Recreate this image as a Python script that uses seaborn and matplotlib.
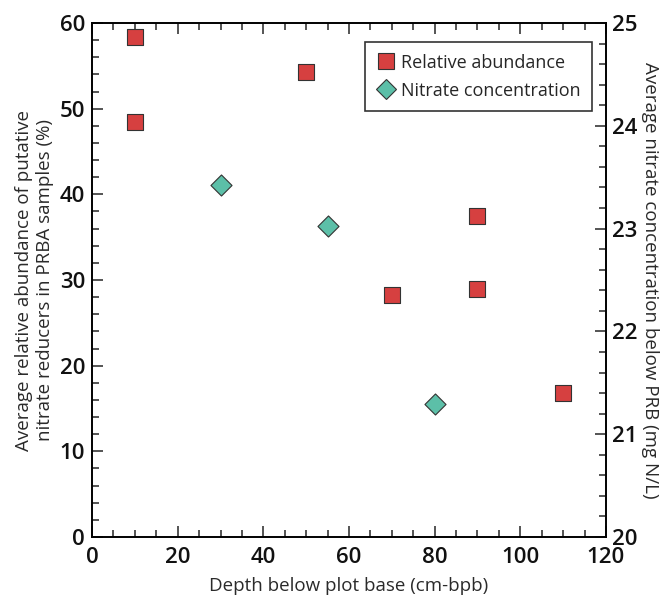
import matplotlib
matplotlib.use("Agg")
import matplotlib.pyplot as plt
from matplotlib.ticker import MultipleLocator
from matplotlib.lines import Line2D
import seaborn as sns
import pandas as pd

# values
abund_depth = [10, 10, 50, 70, 90, 90, 110]
abund_pct = [58.4, 48.4, 54.3, 28.2, 37.5, 28.9, 16.8]

nitrate_depth = [30, 55, 80]
nitrate_conc = [23.42, 23.03, 21.29]

red = "#d64040"
green = "#5cbfa8"

sns.set_theme(style="ticks")
plt.rcParams["font.family"] = ["Open Sans", "DejaVu Sans"]

abund = pd.DataFrame({"depth": abund_depth, "value": abund_pct})
nitrate = pd.DataFrame({"depth": nitrate_depth, "value": nitrate_conc})

fig = plt.figure(figsize=(6.67, 5.96), dpi=100)
ax = fig.add_axes([0.138, 0.099, 0.7705, 0.8624])
ax2 = ax.twinx()

sns.scatterplot(data=abund, x="depth", y="value", ax=ax, marker="s", s=130,
                color=red, edgecolor="#333333", linewidth=0.8, zorder=3)
sns.scatterplot(data=nitrate, x="depth", y="value", ax=ax2, marker="D", s=115,
                color=green, edgecolor="#333333", linewidth=0.8, zorder=3)

ax.set_xlim(0, 120)
ax.set_ylim(0, 60)
ax2.set_ylim(20, 25)

ax.xaxis.set_major_locator(MultipleLocator(20))
ax.xaxis.set_minor_locator(MultipleLocator(5))
ax.yaxis.set_major_locator(MultipleLocator(10))
ax.yaxis.set_minor_locator(MultipleLocator(2))
ax2.yaxis.set_major_locator(MultipleLocator(1))
ax2.yaxis.set_minor_locator(MultipleLocator(0.2))

for a in (ax, ax2):
    for sp in a.spines.values():
        sp.set_visible(True)
        sp.set_linewidth(1.2)
        sp.set_color("black")

ax.tick_params(axis="x", which="both", direction="in", top=True, bottom=True)
ax.tick_params(axis="y", which="both", direction="in", left=True, right=False)
ax2.tick_params(axis="y", which="both", direction="in", right=True, left=False)
for a in (ax, ax2):
    a.tick_params(which="major", length=8, width=1.1, labelsize=16, labelcolor="#111111")
    a.tick_params(which="minor", length=5, width=1.1)
    for lab in a.get_xticklabels() + a.get_yticklabels():
        lab.set_fontweight("semibold")
ax.tick_params(axis="x", pad=7)
ax.tick_params(axis="y", pad=5)
ax2.tick_params(axis="y", pad=4)

ax.set_xlabel("Depth below plot base (cm-bpb)", fontsize=13.5, color="#2a2a2a", labelpad=7)
ax.set_ylabel("Average relative abundance of putative\nnitrate reducers in PRBA samples (%)",
              fontsize=13.5, color="#2a2a2a", labelpad=4)
ax2.set_ylabel("Average nitrate concentration below PRB (mg N/L)", fontsize=13.5,
               color="#2a2a2a", rotation=270, labelpad=16)

handles = [
    Line2D([], [], marker="s", linestyle="none", markersize=11, markerfacecolor=red,
           markeredgecolor="#333333", markeredgewidth=0.8, label="Relative abundance"),
    Line2D([], [], marker="D", linestyle="none", markersize=10, markerfacecolor=green,
           markeredgecolor="#333333", markeredgewidth=0.8, label="Nitrate concentration"),
]
leg = ax2.legend(handles=handles, loc="upper right", bbox_to_anchor=(0.973, 0.963),
                 fontsize=13, frameon=True, fancybox=False, edgecolor="black",
                 handletextpad=0.25, borderpad=0.65, handlelength=1.1, borderaxespad=0,
                 labelspacing=0.55)
leg.get_frame().set_linewidth(1.2)

fig.savefig("out.png", dpi=100)
